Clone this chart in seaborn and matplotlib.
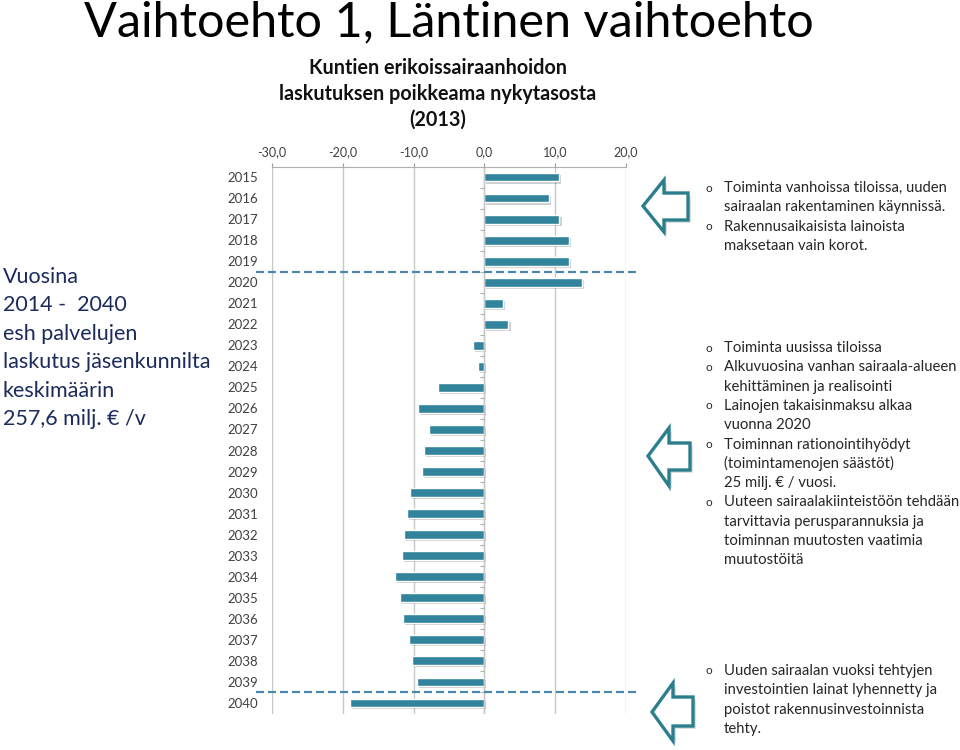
import numpy as np
import pandas as pd
import matplotlib
matplotlib.use("Agg")
import matplotlib.pyplot as plt
import matplotlib.patheffects as pe
from matplotlib.patches import Polygon
import seaborn as sns

# ----------------------------
# Data
# ----------------------------
years = [str(y) for y in range(2015, 2041)]
deviation = [10.5, 9.1, 10.6, 12.0, 12.0, 13.8, 2.6, 3.4, -1.6, -0.9,
             -6.5, -9.4, -7.8, -8.5, -8.8, -10.5, -10.9, -11.4, -11.7, -12.6,
             -11.9, -11.5, -10.6, -10.2, -9.5, -19.0]
x_ticks = [-30, -20, -10, 0, 10, 20]

main_title = "Vaihtoehto 1, Läntinen vaihtoehto"
chart_title = ["Kuntien erikoissairaanhoidon",
               "laskutuksen poikkeama nykytasosta",
               "(2013)"]
left_lines = ["Vuosina", "2014 -  2040", "esh palvelujen",
              "laskutus jäsenkunnilta", "keskimäärin", "257,6 milj. € /v"]

notes_1 = [("o", "Toiminta vanhoissa tiloissa, uuden"),
           ("", "sairaalan rakentaminen käynnissä."),
           ("o", "Rakennusaikaisista lainoista"),
           ("", "maksetaan vain korot.")]
notes_2 = [("o", "Toiminta uusissa tiloissa"),
           ("o", "Alkuvuosina vanhan sairaala-alueen"),
           ("", "kehittäminen ja realisointi"),
           ("o", "Lainojen takaisinmaksu alkaa"),
           ("", "vuonna 2020"),
           ("o", "Toiminnan rationointihyödyt"),
           ("", "(toimintamenojen säästöt)"),
           ("", "25 milj. € / vuosi."),
           ("o", "Uuteen sairaalakiinteistöön tehdään"),
           ("", "tarvittavia perusparannuksia ja"),
           ("", "toiminnan muutosten vaatimia"),
           ("", "muutostöitä")]
notes_3 = [("o", "Uuden sairaalan vuoksi tehtyjen"),
           ("", "investointien lainat lyhennetty ja"),
           ("", "poistot rakennusinvestoinnista"),
           ("", "tehty.")]

df = pd.DataFrame({"year": years, "value": deviation})

# ----------------------------
# Style
# ----------------------------
sns.set_style("white")
plt.rcParams['font.family'] = ['Lato', 'DejaVu Sans']

W, H = 960, 750
fig = plt.figure(figsize=(9.6, 7.5), dpi=100)

def fx(px):
    return px / W

def fy(py):
    return 1 - py / H

bar_color = "#31849B"
teal = "#2B7F8C"
dash_color = "#4A88AE"

# ----------------------------
# Bar chart
# ----------------------------
ax = fig.add_axes([fx(272), fy(713.5), fx(626) - fx(272), (713.5 - 166.5) / H])
sns.barplot(data=df, x="value", y="year", orient="h", color=bar_color,
            width=0.42, saturation=1, ax=ax)
for bar in ax.patches:
    bar.set_path_effects([pe.SimplePatchShadow(offset=(1.5, -1.5), alpha=0.22),
                          pe.Normal()])

ax.set_xlim(-30, 20)
ax.set_ylim(len(years) - 0.5, -0.5)
ax.xaxis.tick_top()
ax.set_xticks(x_ticks)
ax.set_xticklabels([f"{t:.1f}".replace(".", ",") for t in x_ticks])
ax.tick_params(axis="x", colors="#9a9a9a", labelcolor="#404040",
               labelsize=9, length=3, width=0.8, pad=3, top=True, bottom=False)
ax.tick_params(axis="y", length=0, labelsize=9.5, labelcolor="#404040", pad=10)
ax.set_xlabel("")
ax.set_ylabel("")
ax.grid(axis="x", color="#c8c8c8", lw=1)
ax.set_axisbelow(True)
for s in ["left", "right", "bottom"]:
    ax.spines[s].set_visible(False)
ax.spines["top"].set_color("#b0b0b0")
ax.spines["top"].set_linewidth(0.8)

# vertical category axis at zero with ticks between categories
ax.axvline(0, color="#c8c8c8", lw=1, zorder=1)
ax.hlines(np.arange(len(years)) + 0.5, -0.6, 0, color="#b0b0b0", lw=0.8, zorder=1)

# dashed period separators
for yv in [4.5, 24.5]:
    ax.axhline(yv, xmin=-0.045, xmax=1.04, color=dash_color, lw=1.6,
               ls=(0, (3.6, 1.8)), clip_on=False, zorder=5)

# ----------------------------
# Titles and texts
# ----------------------------
fig.text(fx(449), fy(22), main_title, ha="center", va="center",
         fontsize=35, color="#000000")
for i, line in enumerate(chart_title):
    fig.text(fx(438), fy(68 + 26 * i), line, ha="center", va="center",
             fontsize=14.2, fontweight="bold", color="#111111")

for i, line in enumerate(left_lines):
    fig.text(fx(3), fy(277 + 28.4 * i), line, ha="left", va="center",
             fontsize=15.5, color="#1B2B5C")

def notes(items, y0):
    for i, (b, t) in enumerate(items):
        yy = fy(y0 + 19.3 * i)
        if b:
            fig.text(fx(705), yy, b, ha="left", va="center", fontsize=8.5,
                     color="#262626")
        fig.text(fx(724), yy, t, ha="left", va="center", fontsize=10.7,
                 color="#262626")

notes(notes_1, 188)
notes(notes_2, 348)
notes(notes_3, 671)

# ----------------------------
# Arrows
# ----------------------------
def arrow(tip_x, tip_y, head_top, head_bot, base_x, sh_top, sh_bot, right_x):
    pts = [(tip_x, tip_y), (base_x, head_top), (base_x, sh_top),
           (right_x, sh_top), (right_x, sh_bot), (base_x, sh_bot),
           (base_x, head_bot)]
    pts = [(fx(x), fy(y)) for x, y in pts]
    poly = Polygon(pts, closed=True, transform=fig.transFigure,
                   facecolor="white", edgecolor=teal, lw=2.4, joinstyle="miter")
    poly.set_path_effects([pe.SimplePatchShadow(offset=(2, -2), alpha=0.22),
                           pe.Normal()])
    fig.add_artist(poly)

arrow(643, 206, 180, 232, 664, 193, 220, 688)
arrow(648, 456, 428, 486, 669, 443, 470, 690)
arrow(652, 712, 683, 741, 673, 697, 726, 693)

fig.savefig("out.png", dpi=100)
